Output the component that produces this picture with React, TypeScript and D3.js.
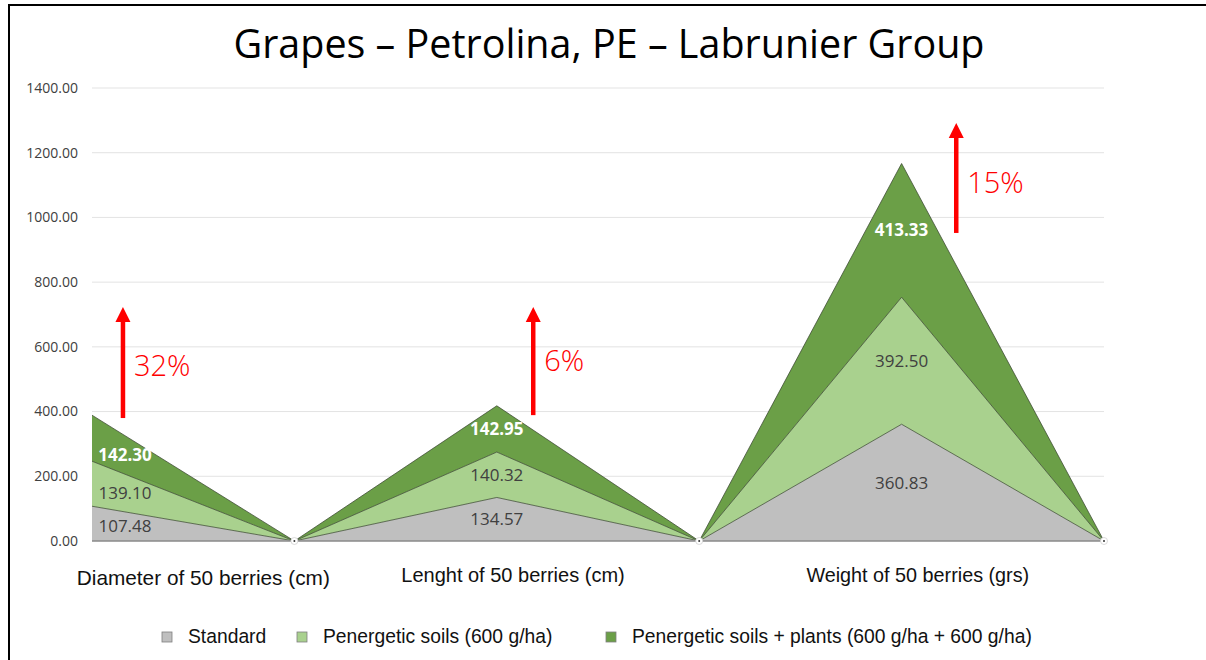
import React, { useEffect, useRef } from "react";
import * as d3 from "d3";

// values
const categories = ["Diameter of 50 berries (cm)", "", "Lenght of 50 berries (cm)", "", "Weight of 50 berries (grs)", ""];
const standard = [107.48, 0, 134.57, 0, 360.83, 0];
const soils = [139.1, 0, 140.32, 0, 392.5, 0];
const soilsPlants = [142.3, 0, 142.95, 0, 413.33, 0];
const seriesNames = ["Standard", "Penergetic soils (600 g/ha)", "Penergetic soils + plants (600 g/ha + 600 g/ha)"];
const yTicks = [0, 200, 400, 600, 800, 1000, 1200, 1400];

// category text boxes (fractional index position)
const categoryLabels = [
  { text: categories[0], at: 0.55, dy: 3, size: 20.8 },
  { text: categories[2], at: 2.08, dy: 0, size: 20 },
  { text: categories[4], at: 4.08, dy: 0, size: 19.8 },
];

// red increase arrows
const increases = [
  { at: 0.153, from: 380, to: 723, label: "32%", labelValue: 541 },
  { at: 2.18, from: 389, to: 723, label: "6%", labelValue: 556 },
  { at: 4.27, from: 952, to: 1292, label: "15%", labelValue: 1106 },
];

const colors = ["#bfbfbf", "#a9d18e", "#6b9f47"];

const App = () => {
  const svgRef = useRef<SVGSVGElement>(null);

  useEffect(() => {
    const svg = d3.select(svgRef.current);
    svg.selectAll("*").remove();

    const x = d3.scaleLinear().domain([0, categories.length - 1]).range([92, 1104]);
    const y = d3.scaleLinear().domain([0, 1400]).range([541, 88]);

    const rows = categories.map((c, i) => ({ i, s0: standard[i], s1: soils[i], s2: soilsPlants[i] }));
    const keys = ["s0", "s1", "s2"];
    const stacked = d3.stack<any>().keys(keys)(rows);

    // frame
    svg.append("path").attr("d", "M9,660 V5 H1206").attr("fill", "none").attr("stroke", "#000").attr("stroke-width", 2);

    // title
    svg.append("text")
      .attr("x", 609).attr("y", 58)
      .attr("text-anchor", "middle")
      .attr("font-family", "Open Sans, sans-serif")
      .attr("font-size", 41)
      .attr("textLength", 751)
      .attr("lengthAdjust", "spacingAndGlyphs")
      .attr("fill", "#000")
      .text("Grapes – Petrolina, PE – Labrunier Group");

    // grid
    svg.append("g").selectAll("line").data(yTicks.filter((d) => d > 0)).enter().append("line")
      .attr("x1", x(0)).attr("x2", x(5))
      .attr("y1", (d) => y(d)).attr("y2", (d) => y(d))
      .attr("stroke", "#e3e3e3").attr("stroke-width", 1);

    svg.append("g").selectAll("text").data(yTicks).enter().append("text")
      .attr("x", 78).attr("y", (d) => y(d))
      .attr("dy", "0.35em")
      .attr("text-anchor", "end")
      .attr("font-family", "Open Sans, sans-serif")
      .attr("font-size", 14)
      .attr("fill", "#404040")
      .text((d) => d.toFixed(2));

    // stacked areas
    const area = d3.area<any>().x((d) => x(d.data.i)).y0((d) => y(d[0])).y1((d) => y(d[1]));
    const line = d3.line<any>().x((d) => x(d.data.i)).y((d) => y(d[1]));
    stacked.forEach((layer, k) => {
      svg.append("path").attr("d", area(layer as any)).attr("fill", colors[k]);
    });
    stacked.forEach((layer) => {
      svg.append("path").attr("d", line(layer as any)).attr("fill", "none")
        .attr("stroke", "#3d4a33").attr("stroke-width", 0.9).attr("stroke-opacity", 0.85);
    });

    // baseline
    svg.append("line").attr("x1", x(0)).attr("x2", x(5)).attr("y1", y(0)).attr("y2", y(0))
      .attr("stroke", "#8a8a8a").attr("stroke-width", 1.5);

    // zero point markers
    rows.filter((r) => r.s0 + r.s1 + r.s2 === 0).forEach((r) => {
      svg.append("circle").attr("cx", x(r.i)).attr("cy", y(0)).attr("r", 3.5)
        .attr("fill", "#fff").attr("stroke", "#d0d0d0").attr("stroke-width", 0.8);
      svg.append("circle").attr("cx", x(r.i)).attr("cy", y(0)).attr("r", 1).attr("fill", "#333");
    });

    // data labels, centred in each band (first point nudged inside the chart)
    const vals = [standard, soils, soilsPlants];
    stacked.forEach((layer, k) => {
      layer.forEach((d: any, i: number) => {
        const v = vals[k][i];
        if (v <= 0) return;
        let px = x(i);
        let lo = d[0];
        let hi = d[1];
        if (i === 0) {
          const t = 0.163;
          const n = layer[i + 1] as any;
          px = x(i + t);
          lo = d[0] + (n[0] - d[0]) * t;
          hi = d[1] + (n[1] - d[1]) * t;
        }
        svg.append("text")
          .attr("x", px).attr("y", y((lo + hi) / 2))
          .attr("dy", "0.35em")
          .attr("text-anchor", "middle")
          .attr("font-family", "Open Sans, sans-serif")
          .attr("font-size", 17)
          .attr("font-weight", k === 2 ? "bold" : "normal")
          .attr("fill", k === 2 ? "#ffffff" : "#404040")
          .text(v.toFixed(2));
      });
    });

    // category labels
    svg.append("g").selectAll("text").data(categoryLabels).enter().append("text")
      .attr("x", (d) => x(d.at)).attr("y", (d) => 582 + d.dy)
      .attr("text-anchor", "middle")
      .attr("font-family", "Liberation Sans, Arial, sans-serif")
      .attr("font-size", (d) => d.size)
      .attr("fill", "#111")
      .text((d) => d.text);

    // increase arrows
    increases.forEach((a) => {
      const ax = x(a.at);
      const top = y(a.to);
      svg.append("line").attr("x1", ax).attr("x2", ax).attr("y1", y(a.from)).attr("y2", top + 14)
        .attr("stroke", "#ff0000").attr("stroke-width", 4.5);
      svg.append("path").attr("d", `M${ax},${top} L${ax - 7.5},${top + 15} L${ax + 7.5},${top + 15} Z`).attr("fill", "#ff0000");
      svg.append("text")
        .attr("x", ax + 11).attr("y", y(a.labelValue))
        .attr("dy", "0.35em")
        .attr("font-family", "Open Sans, sans-serif")
        .attr("font-size", 29)
        .attr("font-weight", 300)
        .attr("fill", "#ff0000")
        .text(a.label);
    });

    // legend
    const legendX = [162, 297, 606];
    seriesNames.forEach((name, k) => {
      svg.append("rect").attr("x", legendX[k]).attr("y", 632).attr("width", 10).attr("height", 10)
        .attr("fill", colors[k]).attr("stroke", "#7f7f7f").attr("stroke-width", 0.8);
      svg.append("text").attr("x", legendX[k] + 26).attr("y", 643)
        .attr("font-family", "Liberation Sans, Arial, sans-serif")
        .attr("font-size", 19.3)
        .attr("fill", "#111")
        .text(name);
    });
  }, []);

  return (
    <svg
      ref={svgRef}
      width={1206}
      height={660}
      style={{ position: "absolute", left: 0, top: 0, background: "#fff" }}
    />
  );
};

export default App;
